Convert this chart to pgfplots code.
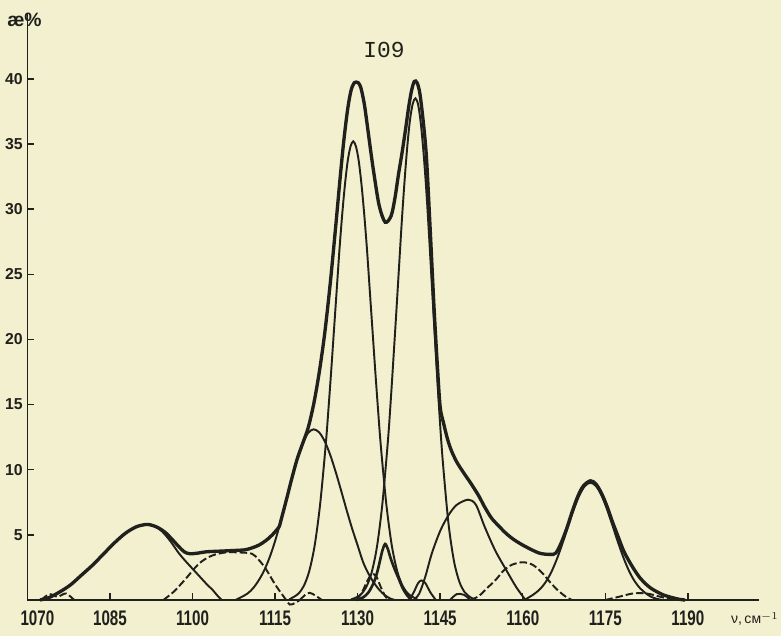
\documentclass[border=0pt]{standalone}
\usepackage{fontspec}
\setmainfont{Liberation Sans}
\newfontfamily\xtickfont[FakeStretch=0.72]{Liberation Sans}
\newfontfamily\ytickfont[FakeStretch=1.0]{Liberation Sans}
\newfontfamily\typefont{Liberation Mono}
\usepackage{pgfplots}
\pgfplotsset{compat=1.18}
\definecolor{paper}{RGB}{242,240,206}
\definecolor{ink}{RGB}{32,32,28}

\begin{document}
\begin{tikzpicture}
\useasboundingbox (0mm,0mm) rectangle (156.2mm,127.2mm);
\fill[paper] (0mm,0mm) rectangle (156.2mm,127.2mm);
\begin{axis}[
    at={(5.48mm,7.2mm)}, anchor=south west,
    scale only axis, width=146.4mm, height=117.27mm,
    xmin=1070, xmax=1203, ymin=0, ymax=45,
    axis x line=bottom, axis y line=left,
    axis line style={-, ink, line width=0.9pt},
    tick align=inside, major tick length=1.4mm,
    tick style={ink, line width=0.8pt},
    xtick={1070,1085,1100,1115,1130,1145,1160,1175,1190},
    xticklabels={\hspace*{4mm}1070,1085,1100,1115,1130,1145,1160,1175,1190},
    ytick={5,10,15,20,25,30,35,40},
    yticklabels={5,10,15,20,25,30,35,40},
    xticklabel style={font=\xtickfont\bfseries\fontsize{12}{14}\selectfont, text=ink, yshift=-1mm},
    yticklabel style={font=\ytickfont\bfseries\fontsize{9}{11}\selectfont, text=ink, inner sep=0.5pt, xshift=-0.7mm},
    clip=false,
    env/.style={ink, line width=1.9pt, smooth, mark=none},
    comp/.style={ink, line width=1.1pt, smooth, mark=none},
    dsh/.style={ink, line width=1.1pt, smooth, mark=none, dash pattern=on 1.5mm off 0.6mm},
]
% measured envelope
\addplot[env] coordinates {
 (1072.3,0.0)(1074,0.2)(1075.8,0.6)(1077.8,1.15)(1079.8,1.9)(1081.8,2.66)(1083.8,3.52)
 (1085.8,4.38)(1087.8,5.12)(1089.8,5.62)(1091.8,5.8)(1093.5,5.6)(1095,5.2)(1096.3,4.65)
 (1097.5,4.1)(1098.5,3.7)(1099.5,3.55)(1101,3.6)(1102.5,3.7)(1105,3.75)(1107.5,3.8)
 (1109.5,3.85)(1110.8,4.0)(1112,4.2)(1113.3,4.55)(1114.5,5.0)(1115.7,5.6)(1116,6.0)
 (1117,7.6)(1118,9.26)(1119,10.8)(1120,12.0)(1121,13.2)(1122,15.0)(1123,17.4)(1124,20.4)
 (1125,24.2)(1126,28.6)(1126.8,32.3)(1127.5,35.3)(1128.2,37.7)(1128.8,39.1)(1129.4,39.7)
 (1130.1,39.7)(1130.6,39.3)(1131.2,38.1)(1131.7,36.6)(1132.3,34.7)(1132.9,32.9)(1133.9,30.3)
 (1135,29.0)(1136.1,29.5)(1136.8,30.9)(1137.4,32.6)(1138.1,34.4)(1138.7,36.1)(1139.3,37.9)
 (1139.8,39.1)(1140.3,39.8)(1140.8,39.7)(1141.3,38.9)(1141.9,36.8)(1142.5,34.0)(1143.2,28.3)
 (1143.9,22.3)(1144.5,17.9)(1145,14.8)(1145.6,13.6)(1146.3,12.4)(1147,11.5)(1148,10.6)
 (1149.2,9.8)(1150.5,9.0)(1152,8.0)(1153,7.2)(1154.3,6.3)(1155.6,5.7)(1157,5.1)(1158.5,4.6)
 (1160.5,4.1)(1163,3.6)(1165,3.5)(1166,3.6)(1167,4.4)(1168,5.5)(1169,6.8)(1170,7.95)
 (1171,8.75)(1172.3,9.15)(1173.3,8.9)(1174.3,8.2)(1175.3,7.2)(1176.3,6.0)(1177.3,4.9)
 (1178.3,3.8)(1179.3,3.0)(1180.3,2.3)(1181.3,1.7)(1182.3,1.25)(1183.3,0.9)(1184.3,0.65)
 (1185.5,0.4)(1187,0.2)(1188.5,0.05)(1189.5,0.0)
};
% component bands
\addplot[comp] coordinates {
 (1072.3,0.0)(1074,0.2)(1075.8,0.6)(1077.8,1.15)(1079.8,1.9)(1081.8,2.66)(1083.8,3.52)
 (1085.8,4.38)(1087.8,5.12)(1089.8,5.62)(1091.8,5.8)(1093,5.7)(1094.5,5.25)(1096,4.5)
 (1097.5,3.6)(1098.7,3.0)(1100,2.4)(1101.2,1.85)(1102.5,1.25)(1103.7,0.75)(1104.6,0.3)(1105.3,0.0)
};
\addplot[dsh] coordinates {
 (1094.7,0.0)(1096.5,0.6)(1098.5,1.5)(1101.2,2.8)(1103.5,3.4)(1106,3.65)(1108.5,3.65)
 (1110.8,3.55)(1112,3.1)(1113.3,2.4)(1115,1.2)(1116.5,0.3)(1117.7,-0.35)(1118.7,-0.2)(1119.5,0.0)
};
\addplot[dsh] coordinates {
 (1119.5,0.0)(1120.5,0.4)(1121.3,0.55)(1122.3,0.35)(1123.5,0.0)
};
\addplot[comp] coordinates {
 (1107.8,0.0)(1109,0.25)(1110,0.5)(1111,0.9)(1112,1.49)(1113,2.25)(1114,3.26)(1115,4.52)
 (1116,6.0)(1117,7.63)(1118,9.26)(1119,10.8)(1120,12.0)(1121,12.82)(1122,13.1)(1123,12.87)
 (1124,12.2)(1125,11.16)(1126,9.85)(1127,8.4)(1128,6.9)(1129,5.48)(1130,4.19)(1131,2.9)
 (1132,2.0)(1133,1.3)(1134,0.75)(1135,0.35)(1136,0.1)(1136.8,0.0)
};
\addplot[comp] coordinates {
 (1117.6,0.05)(1118.2,0.19)(1119.2,0.47)(1120.2,1.06)(1121.2,2.2)(1122.2,4.2)(1123.2,7.4)
 (1124.2,11.9)(1124.7,14.66)(1125.2,17.6)(1125.7,20.7)(1126.2,23.8)(1126.7,26.9)(1127.2,29.6)
 (1127.7,31.9)(1128.2,33.7)(1128.7,34.8)(1129.2,35.2)(1129.7,34.8)(1130.2,33.7)(1130.7,31.9)
 (1131.2,29.6)(1131.7,26.9)(1132.2,23.8)(1132.7,20.7)(1133.2,17.6)(1133.7,14.66)(1134.2,11.9)
 (1135.2,7.4)(1136.2,4.2)(1137.2,2.2)(1138.2,1.06)(1139.2,0.47)(1140.2,0.19)(1140.8,0.05)
};
\addplot[comp] coordinates {
 (1128.8,0.05)(1129.5,0.15)(1130.5,0.39)(1131.5,0.94)(1132.5,2.04)(1133.5,4.05)(1134.5,7.4)
 (1135.5,12.2)(1136,15.2)(1136.5,18.5)(1137,21.9)(1137.5,25.4)(1138,28.9)(1138.5,32.0)
 (1139,34.7)(1139.5,36.8)(1140,38.06)(1140.5,38.5)(1141,38.0)(1141.5,36.5)(1142,34.2)
 (1142.5,31.3)(1143,27.8)(1143.5,24.1)(1144,20.4)(1144.5,16.8)(1145,13.4)(1145.5,10.5)
 (1146.5,5.9)(1147.5,3.0)(1148.5,1.38)(1149.5,0.57)(1150.5,0.21)(1151.2,0.05)
};
\addplot[comp, line width=1.5pt] coordinates {
 (1129.8,0.0)(1131,0.2)(1132,0.6)(1133,1.4)(1133.6,2.2)(1134,2.9)(1134.5,3.8)(1135,4.3)
 (1135.5,3.9)(1136,3.2)(1136.7,2.4)(1137.4,1.7)(1138.2,0.9)(1139,0.35)(1139.8,0.0)
};
\addplot[dsh] coordinates {
 (1129.8,0.0)(1130.8,0.6)(1131.8,1.5)(1132.6,2.0)(1133.4,1.8)(1134.2,1.0)(1135,0.3)(1135.6,0.0)
};
\addplot[comp] coordinates {
 (1139.4,0.0)(1140.2,0.6)(1141,1.3)(1141.6,1.5)(1142.3,1.3)(1143.2,0.6)(1144.2,0.0)
};
\addplot[comp] coordinates {
 (1146.8,0.0)(1148,0.45)(1149.3,0.4)(1150.5,0.0)
};
\addplot[comp] coordinates {
 (1140.2,0.0)(1141.2,0.5)(1142.3,1.8)(1143.5,3.6)(1145,5.3)(1146.5,6.5)(1148,7.3)(1150.1,7.7)
 (1151.5,7.3)(1153.1,5.6)(1155,3.8)(1157,2.3)(1158.8,1.0)(1160.5,0.0)
};
\addplot[dsh] coordinates {
 (1150.5,0.0)(1152,0.3)(1153.5,0.9)(1155.2,1.6)(1156.5,2.25)(1158,2.7)(1160,2.9)(1161.8,2.7)
 (1163.5,2.1)(1165,1.35)(1166.5,0.7)(1168,0.2)(1169,0.0)
};
\addplot[comp] coordinates {
 (1160.3,0.0)(1161.3,0.25)(1162.3,0.53)(1163.3,0.91)(1164.3,1.46)(1165.3,2.24)(1166.3,3.25)
 (1167.3,4.44)(1168.3,5.72)(1169.3,6.98)(1170.3,8.04)(1171.3,8.75)(1172.3,9.0)(1173.3,8.75)
 (1174.3,8.04)(1175.3,6.98)(1176.3,5.72)(1177.3,4.44)(1178.3,3.25)(1179.3,2.24)(1180.3,1.46)
 (1181.3,0.91)(1182.3,0.53)(1183.3,0.25)(1184.3,0.1)(1185.3,0.0)
};
\addplot[dsh] coordinates {
 (1175,0.0)(1177.5,0.25)(1180,0.5)(1182.5,0.5)(1185,0.25)(1187.5,0.0)
};
\addplot[dsh] coordinates {
 (1072.5,0.0)(1074,0.45)(1075.5,0.25)(1077,0.5)(1078.5,0.0)
};
\end{axis}
\node[font=\typefont\fontsize{13}{15}\selectfont, text=ink] at (76.8mm,117.2mm) {I09};
\node[font=\bfseries\fontsize{11}{13}\selectfont, text=ink] at (4.9mm,123.3mm) {æ\%};
\node[anchor=east, inner sep=0pt, font=\fontsize{8}{10}\selectfont, text=ink] at (155.8mm,3.4mm) {ν,\,см$^{-1}$};
\end{tikzpicture}
\end{document}
